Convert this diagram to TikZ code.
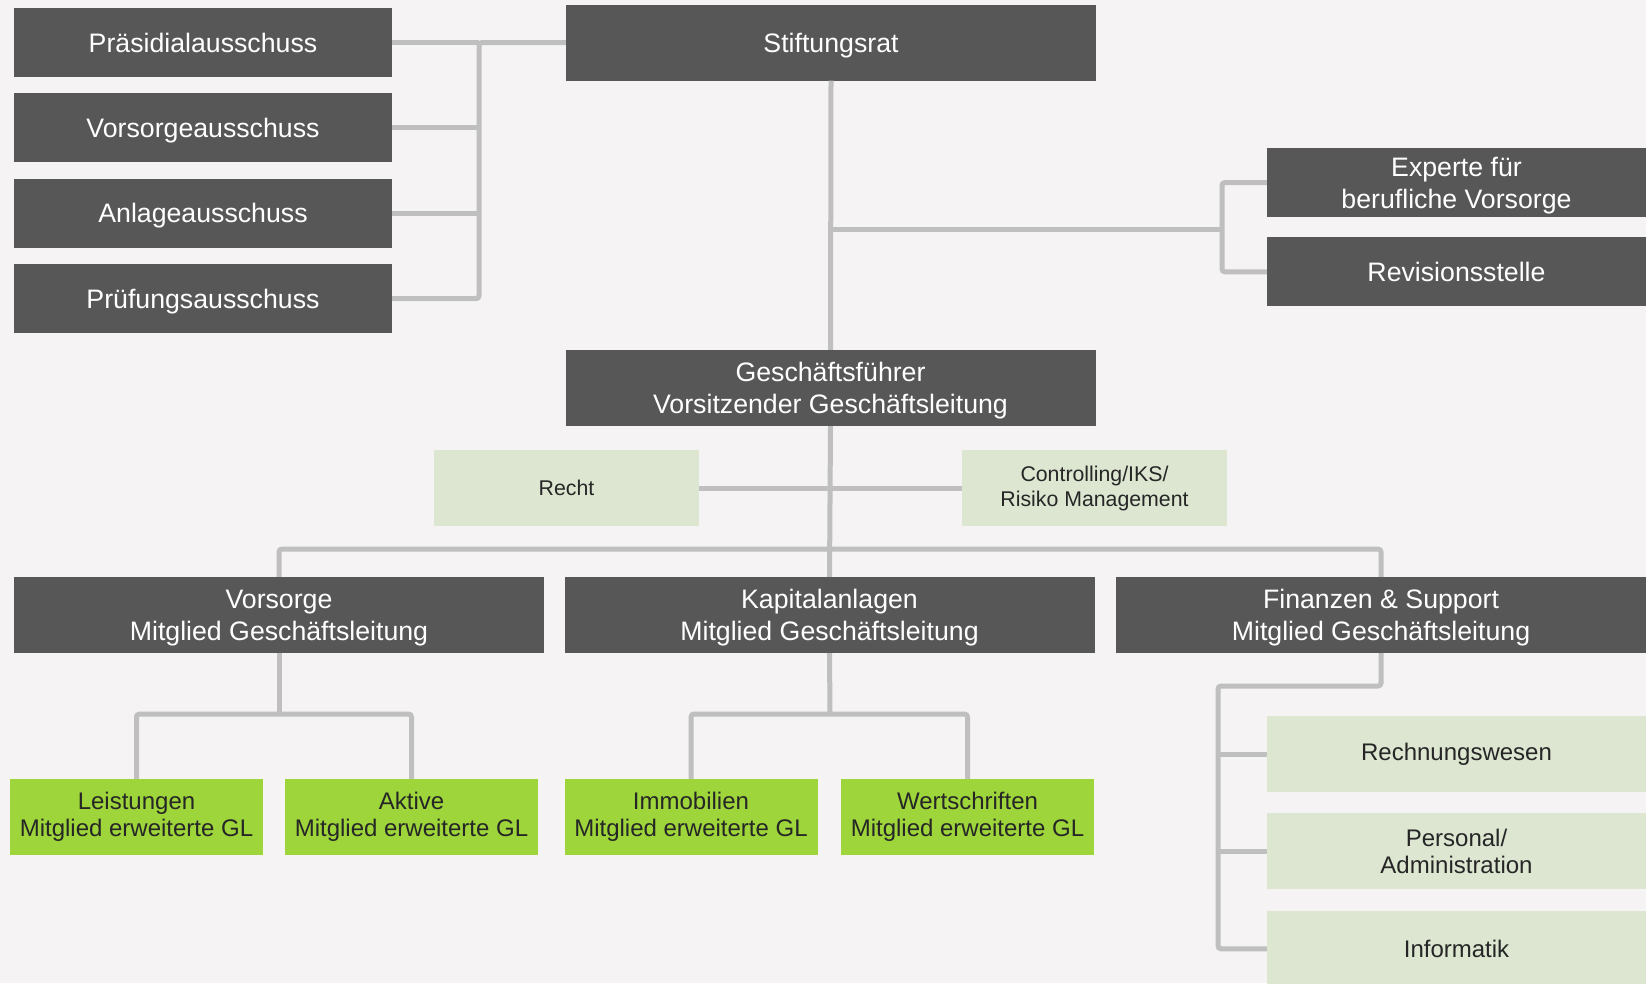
\documentclass[tikz,border=0pt]{standalone}
\usepackage{fontspec}
\setmainfont{Liberation Sans}
\usetikzlibrary{positioning}
\definecolor{bg}{HTML}{F5F3F4}
\definecolor{boxgrey}{HTML}{575757}
\definecolor{linegrey}{HTML}{BFBFBF}
\definecolor{palegreen}{HTML}{DCE6D0}
\definecolor{limegreen}{HTML}{9DD53A}
\definecolor{ink}{HTML}{262626}

\tikzset{
  dark/.style={fill=boxgrey, text=white, inner sep=0pt, align=center, text depth=0pt,
    minimum width=530pt, minimum height=76pt, font=\fontsize{26.7}{32}\selectfont},
  ausschuss/.style={dark, minimum width=378pt, minimum height=69pt},
  pale/.style={fill=palegreen, text=ink, inner sep=0pt, align=center,
    minimum width=379pt, minimum height=76pt, font=\fontsize{24}{27}\selectfont},
  stab/.style={pale, minimum width=265pt, font=\fontsize{21.3}{25}\selectfont},
  lime/.style={fill=limegreen, text=ink, inner sep=0pt, align=center,
    minimum width=253pt, minimum height=76pt, font=\fontsize{24}{27}\selectfont},
  link/.style={draw=linegrey, line width=5pt, rounded corners=3pt},
}

\begin{document}
\begin{tikzpicture}[x=1pt, y=-1pt]
  \useasboundingbox (0,0) rectangle (1646,983);
  \fill[bg] (0,0) rectangle (1646,983);

  \node[ausschuss] (praes) at (203,42.5) {Präsidialausschuss};
  \node[ausschuss, below=16pt of praes] (vorsa) {Vorsorgeausschuss};
  \node[ausschuss, below=16pt of vorsa] (anlage) {Anlageausschuss};
  \node[ausschuss, below=16pt of anlage] (pruef) {Prüfungsausschuss};

  \node[dark] (stift) at (831,42.5) {Stiftungsrat};
  \node[ausschuss, minimum width=379pt] (experte) at (1456.5,182.5) {Experte für\\berufliche Vorsorge};
  \node[ausschuss, minimum width=379pt, below=20pt of experte] (revision) {Revisionsstelle};

  \node[dark] (gf) at (830.5,388) {Geschäftsführer\\Vorsitzender Geschäftsleitung};
  \node[stab] (recht) at (566.5,488) {Recht};
  \node[stab] (contr) at (1094.5,488) {Controlling/IKS/\\Risiko Management};

  \node[dark] (vors) at (279,615) {Vorsorge\\Mitglied Geschäftsleitung};
  \node[dark] (kap) at (829.5,615) {Kapitalanlagen\\Mitglied Geschäftsleitung};
  \node[dark] (fin) at (1381,615) {Finanzen \& Support\\Mitglied Geschäftsleitung};

  \node[lime] (leist) at (136.5,817) {Leistungen\\Mitglied erweiterte GL};
  \node[lime] (aktive) at (411.5,817) {Aktive\\Mitglied erweiterte GL};
  \node[lime] (immo) at (691,817) {Immobilien\\Mitglied erweiterte GL};
  \node[lime] (wert) at (967.5,817) {Wertschriften\\Mitglied erweiterte GL};

  \node[pale] (rech) at (1456.5,754) {Rechnungswesen};
  \node[pale, below=21pt of rech] (pers) {Personal/\\Administration};
  \node[pale, below=21pt of pers] (info) {Informatik};

  \coordinate (kbus) at (479,0);
  \coordinate (ebus) at (1222,229);
  \coordinate (bus) at (830,549);
  \coordinate (vbr) at (279,714);
  \coordinate (kbr) at (830,714);
  \coordinate (fbus) at (1218,686);

  \draw[link] (pruef.east) -| (kbus |- praes.east) -- (stift.west);
  \draw[link] (praes.east) -- (praes.east -| kbus);
  \draw[link] (vorsa.east) -- (vorsa.east -| kbus);
  \draw[link] (anlage.east) -- (anlage.east -| kbus);

  \draw[link] (stift.south) -- (gf.north);
  \draw[link] (stift.south |- ebus) -- (ebus);
  \draw[link] (experte.west) -| (ebus) |- (revision.west);

  \draw[link] (gf.south) -- (kap.north);
  \draw[link] (recht.east) -- (contr.west);
  \draw[link] (vors.north) |- (bus) -| (fin.north);

  \draw[link] (vors.south) -- (vbr);
  \draw[link] (leist.north) |- (vbr) -| (aktive.north);
  \draw[link] (kap.south) -- (kbr);
  \draw[link] (immo.north) |- (kbr) -| (wert.north);

  \draw[link] (fin.south) |- (fbus) |- (info.west);
  \draw[link] (fbus |- rech.west) -- (rech.west);
  \draw[link] (fbus |- pers.west) -- (pers.west);
\end{tikzpicture}
\end{document}
